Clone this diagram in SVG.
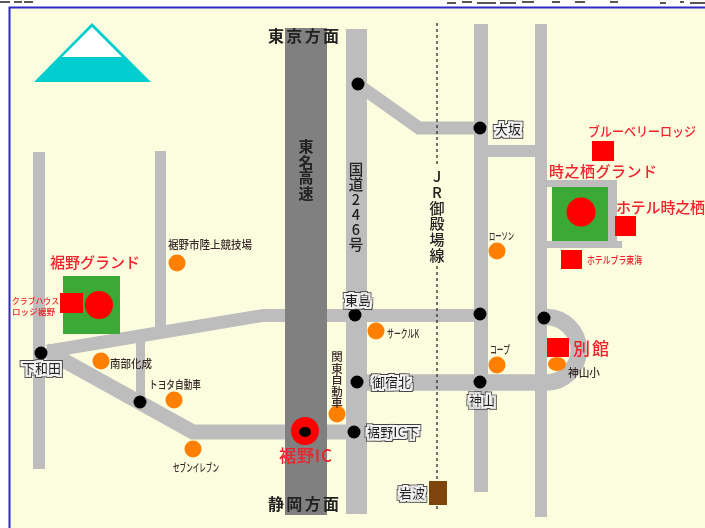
<svg xmlns="http://www.w3.org/2000/svg" width="705" height="528" viewBox="0 0 705 528">
<style>
text{font-family:"Noto Sans CJK JP","Liberation Sans",sans-serif}
.r{fill:#bdbdbd}
.rs{fill:none;stroke:#bdbdbd}
.d{fill:#000}
.o{fill:#ff8000}
.sq{fill:#f00}
.red{fill:#f0202a;font-weight:500}
.blk{fill:#222;font-weight:700}
.tiny{fill:#3a2a2a;font-weight:500}
.lab{fill:#222;font-size:13px;font-weight:500}
.v{writing-mode:vertical-rl;text-orientation:upright}
</style>
<defs>
<filter id="soft" x="0" y="0" width="1" height="1" filterUnits="objectBoundingBox"><feGaussianBlur stdDeviation="0.45"/></filter>
<filter id="halo" x="-30%" y="-50%" width="160%" height="200%">
<feMorphology in="SourceAlpha" operator="dilate" radius="3" result="o"/>
<feFlood flood-color="#444"/><feComposite in2="o" operator="in" result="dark"/>
<feMorphology in="SourceAlpha" operator="dilate" radius="2" result="i"/>
<feFlood flood-color="#f4f4f4"/><feComposite in2="i" operator="in" result="light"/>
<feMerge><feMergeNode in="dark"/><feMergeNode in="light"/><feMergeNode in="SourceGraphic"/></feMerge>
</filter>
</defs>
<g filter="url(#soft)">
<rect width="705" height="528" fill="#fff"/>
<rect x="9.500" y="7.500" width="710" height="540" fill="#fcfcdf" stroke="#2a2ac8" stroke-width="2"/>
<g id="connectors">
<rect class="r" x="33" y="152" width="12" height="317"/>
<rect class="r" x="155" y="151" width="11" height="180"/>
<rect class="r" x="346" y="29" width="21" height="485"/>
<rect class="r" x="474" y="24" width="14" height="468"/>
<rect class="r" x="535" y="24" width="12" height="493"/>
<path class="rs" stroke-width="13" d="M357 84L419 128H480"/>
<rect class="r" x="487" y="145" width="50" height="12"/>
<rect class="r" x="546" y="180" width="71" height="7"/>
<rect class="r" x="608" y="180" width="9" height="68"/>
<rect class="r" x="546" y="241" width="76" height="7"/>
<rect class="r" x="136" y="330" width="9" height="70"/>
<path class="r" d="M45 345L263 309H480V322H263L60 356Z"/>
<path class="rs" stroke-width="15" d="M45 350L193 432H354"/>
<path class="rs" stroke-width="16.500" d="M357 382.500H546A32.750 32.750 0 0 0 546 317"/>
<rect x="285" y="28" width="42" height="487" fill="#808080"/>
</g>
<g id="rail"><line x1="437" y1="23" x2="437" y2="167" stroke="#444" stroke-width="1.500" stroke-dasharray="3 3"/><line x1="437" y1="266" x2="437" y2="512" stroke="#444" stroke-width="1.500" stroke-dasharray="3 3"/></g>
<g id="cropped-top" stroke="#222" stroke-width="1.500" fill="none"><path d="M0 2H10M14 2H22M24 2H33M447 3H456M462 2H472M477 3H496M500 3H516M522 2H534M552 2H560M575 2H585M610 2H618M660 3H666M680 2H684M690 3H705"/></g>
<g id="fuji"><polygon points="34,82 92,23 151,82" fill="#00cdcd"/><polygon points="62,57 92,27 122,57" fill="#fff"/></g>
<g id="label-tokyo"><text class="blk" x="268" y="42" font-size="16" textLength="71">東京方面</text></g>
<g id="label-shizuoka"><text class="blk" x="268" y="510" font-size="16" textLength="71">静岡方面</text></g>
<g id="label-tomei"><text class="blk v" x="306" y="139" font-size="15" letter-spacing="0.500">東名高速</text></g>
<g id="label-246"><text class="blk v" x="356" y="162" font-size="14.500" letter-spacing="0.600" style="font-weight:500">国道246号</text></g>
<g id="label-jr"><text class="blk v" x="437" y="169" font-size="15" letter-spacing="0.700" style="font-weight:500">JR御殿場線</text></g>
<g id="susono-ground"><rect x="63" y="276" width="57" height="58" fill="#3aa935"/><circle cx="99" cy="305" r="14" fill="#f00"/><rect class="sq" x="60" y="293" width="23" height="20"/><text class="red" x="50" y="268" font-size="15" textLength="90">裾野グランド</text><text class="red" x="12" y="304" font-size="8.500" textLength="47" lengthAdjust="spacingAndGlyphs">クラブハウス</text><text class="red" x="12" y="315" font-size="8.500" textLength="43" lengthAdjust="spacingAndGlyphs">ロッジ裾野</text></g>
<g id="tokinosu-ground"><rect x="552" y="187" width="56" height="54" fill="#3aa935"/><circle cx="581" cy="212" r="14.500" fill="#f00"/><text class="red" x="549" y="177" font-size="15" textLength="108">時之栖グランド</text></g>
<g id="blueberry"><rect class="sq" x="592" y="141" width="22" height="20"/><text class="red" x="588" y="136" font-size="13" textLength="108" lengthAdjust="spacingAndGlyphs">ブルーベリーロッジ</text></g>
<g id="hotel-tokinosu"><rect class="sq" x="615" y="216" width="21" height="20"/><text class="red" x="616" y="213" font-size="15" textLength="89">ホテル時之栖</text></g>
<g id="hotel-tokai"><rect class="sq" x="561" y="250" width="21" height="19"/><text class="red" x="587" y="264" font-size="10" textLength="55" lengthAdjust="spacingAndGlyphs">ホテルプラ東海</text></g>
<g id="bekkan"><rect class="sq" x="547" y="338" width="22" height="19"/><text class="red" x="573" y="355" font-size="17" textLength="36">別館</text></g>
<g id="susono-ic"><circle cx="305" cy="431" r="14" fill="#f00"/><ellipse cx="305" cy="432" rx="6" ry="5" class="d"/><text class="red" x="279" y="462" font-size="17" textLength="53">裾野IC</text></g>
<g id="iwanami"><rect x="429" y="481" width="18" height="24" fill="#7f4510"/><text class="lab" filter="url(#halo)" x="399" y="498" textLength="26">岩波</text></g>
<g id="junctions">
<circle class="d" cx="358" cy="84" r="6.500"/><circle class="d" cx="480" cy="128" r="6.500"/>
<circle class="d" cx="355" cy="315" r="6.500"/><circle class="d" cx="480" cy="314" r="6.500"/><circle class="d" cx="544" cy="318" r="6.500"/>
<circle class="d" cx="357" cy="382" r="6.500"/><circle class="d" cx="480" cy="382" r="6.500"/><circle class="d" cx="354" cy="432" r="6.500"/>
<circle class="d" cx="41" cy="353" r="6.500"/><circle class="d" cx="140" cy="402" r="6.500"/>
</g>
<g id="poi">
<circle class="o" cx="177" cy="263" r="8.500"/><text class="tiny" font-size="11" x="168" y="249" textLength="84" lengthAdjust="spacingAndGlyphs">裾野市陸上競技場</text>
<circle class="o" cx="101" cy="361" r="8.500"/><text class="tiny" font-size="11" x="110" y="368" textLength="42" lengthAdjust="spacingAndGlyphs">南部化成</text>
<circle class="o" cx="174" cy="400" r="8.500"/><text class="tiny" font-size="11" x="149" y="389" textLength="52" lengthAdjust="spacingAndGlyphs">トヨタ自動車</text>
<circle class="o" cx="193" cy="449" r="8.500"/><text class="tiny" font-size="11" x="173" y="472" textLength="46" lengthAdjust="spacingAndGlyphs">セブンイレブン</text>
<circle class="o" cx="337" cy="414" r="8.500"/>
<text class="tiny v" font-size="11.500" x="337" y="351">関東自動車</text>
<circle class="o" cx="376" cy="331" r="8.500"/><text class="tiny" font-size="11" x="387" y="338" textLength="32" lengthAdjust="spacingAndGlyphs">サークルK</text>
<circle class="o" cx="497" cy="251" r="8.500"/><text class="tiny" font-size="10" x="489" y="240" textLength="25" lengthAdjust="spacingAndGlyphs">ローソン</text>
<circle class="o" cx="497" cy="365" r="8.500"/><text class="tiny" font-size="11" x="490" y="354" textLength="20" lengthAdjust="spacingAndGlyphs">コープ</text>
<ellipse class="o" cx="557" cy="364" rx="9" ry="7"/><text class="tiny" font-size="11" x="568" y="377" textLength="32" lengthAdjust="spacingAndGlyphs">神山小</text>
</g>
<g id="place-labels">
<text class="lab" filter="url(#halo)" x="495" y="134" textLength="26">大坂</text>
<text class="lab" filter="url(#halo)" x="345" y="305" textLength="26">東島</text>
<text class="lab" filter="url(#halo)" x="372" y="387" textLength="39">御宿北</text>
<text class="lab" filter="url(#halo)" x="469" y="405" textLength="26">神山</text>
<text class="lab" filter="url(#halo)" x="367" y="437" textLength="52">裾野IC下</text>
<text class="lab" filter="url(#halo)" x="22" y="373" textLength="39">下和田</text>
</g>
</g>
</svg>
